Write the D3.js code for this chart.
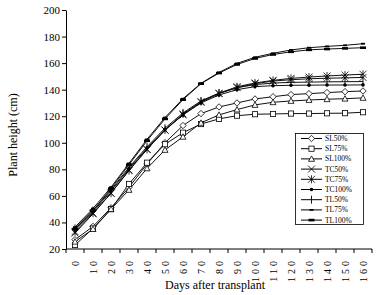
<!DOCTYPE html>
<html>
<head>
<meta charset="utf-8">
<script src="https://cdn.jsdelivr.net/npm/d3@7"></script>
<style>
  body { margin: 0; background: #fff; }
  svg { display: block; font-family: "Liberation Serif", "Times New Roman", serif; }
</style>
</head>
<body>
<script>
// Data.
const days = [0, 10, 20, 30, 40, 50, 60, 70, 80, 90, 100, 110, 120, 130, 140, 150, 160]
const seriesNames = ['SL50%', 'SL75%', 'SL100%', 'TC50%', 'TC75%', 'TC100%', 'TL50%', 'TL75%', 'TL100%']
const sl50 = [27, 37, 51, 66.5, 84, 100, 113, 122, 127, 130, 133, 134.7, 136.3, 137, 137.8, 138.5, 139]
const sl75 = [23, 35.5, 50, 69, 85, 98.9, 107.6, 114.1, 118, 120.4, 121.5, 121.7, 122, 122, 122.2, 122.3, 123]
const sl100 = [25.5, 35, 50, 64.5, 80.7, 94.6, 104.5, 115, 121, 125, 128.5, 130.5, 131.5, 132.2, 132.8, 133.2, 133.8]
const tc50 = [32, 46.5, 62, 79.5, 95, 109.5, 121, 130.5, 137, 141.5, 144.5, 146.5, 147.5, 148.2, 148.6, 148.9, 149.2]
const tc75 = [33, 47, 62, 79, 95, 109.6, 121.7, 131, 137.3, 142.2, 145, 147, 148.5, 149.5, 150.3, 151, 151.6]
const tc100 = [34.5, 48, 63.5, 80.5, 96, 110, 121, 130, 136, 140, 142.3, 143, 143.3, 143.4, 143.5, 143.5, 143.6]
const tl50 = [35.5, 49, 64.5, 81.5, 97, 111, 122.5, 131.5, 137.5, 141.5, 143.8, 145, 145.5, 145.7, 145.9, 146, 146.1]
const tl75 = [36.5, 50.5, 66.5, 84.5, 102.6, 119, 133.2, 144.8, 153, 159.8, 164.4, 167.4, 169.9, 171.6, 172.6, 173.4, 174.6]
const tl100 = [35, 49, 65.5, 83.5, 101.5, 118, 132.5, 144.5, 152.5, 159, 163.5, 166.5, 168.5, 170, 170.6, 171.1, 171.6]
const yTicks = [20, 40, 60, 80, 100, 120, 140, 160, 180, 200]

const seriesValues = [sl50, sl75, sl100, tc50, tc75, tc100, tl50, tl75, tl100]
const markers = ['diamond', 'square', 'triangle', 'cross', 'star', 'dot', 'plus', 'dash', 'bar']

const W = 377, H = 295

const svg = d3.select('body')
  .append('svg')
    .attr('width', W)
    .attr('height', H)

// Scales.
const x = d3.scaleBand().domain(days).range([66, 372])
const y = d3.scaleLinear().domain([20, 200]).range([249, 10])
const cx = d => x(d) + x.bandwidth() / 2

// Draw one marker shape centred on (0,0).
const drawMarker = (g, type) => {
  const s = '#000'
  if (type === 'diamond') {
    g.append('path').attr('d', 'M0,-3.2L3.2,0L0,3.2L-3.2,0Z')
      .attr('fill', '#fff').attr('stroke', s).attr('stroke-width', 0.8)
  } else if (type === 'square') {
    g.append('rect').attr('x', -2.6).attr('y', -2.6).attr('width', 5.2).attr('height', 5.2)
      .attr('fill', '#fff').attr('stroke', s).attr('stroke-width', 0.8)
  } else if (type === 'triangle') {
    g.append('path').attr('d', 'M0,-3L3,2.4L-3,2.4Z')
      .attr('fill', '#fff').attr('stroke', s).attr('stroke-width', 0.8)
  } else if (type === 'cross') {
    g.append('path').attr('d', 'M-3.5,-3.5L3.5,3.5M-3.5,3.5L3.5,-3.5')
      .attr('stroke', s).attr('stroke-width', 0.8)
  } else if (type === 'star') {
    g.append('path').attr('d', 'M-3.5,-3.5L3.5,3.5M-3.5,3.5L3.5,-3.5M0,-4L0,4')
      .attr('stroke', s).attr('stroke-width', 0.8)
  } else if (type === 'dot') {
    g.append('circle').attr('r', 1.8).attr('fill', s)
  } else if (type === 'plus') {
    g.append('path').attr('d', 'M0,-4L0,4')
      .attr('stroke', s).attr('stroke-width', 0.9)
  } else if (type === 'dash') {
    g.append('rect').attr('x', -2).attr('y', -0.9).attr('width', 4).attr('height', 1.8).attr('fill', s)
  } else if (type === 'bar') {
    g.append('rect').attr('x', -3).attr('y', -1.3).attr('width', 6).attr('height', 2.6).attr('fill', s)
  }
}

// Axes.
const yAxis = svg.append('g')
    .attr('transform', `translate(${x.range()[0]},0)`)
    .call(d3.axisLeft(y).tickValues(yTicks).tickSize(4).tickSizeOuter(0))
yAxis.select('.domain').attr('stroke', '#000')
yAxis.selectAll('line').attr('stroke', '#000')
yAxis.selectAll('text')
    .attr('font-size', 11)
    .attr('font-family', '"Liberation Serif", serif')
    .attr('fill', '#000')
    .attr('x', -6)

// X axis line with ticks on band boundaries.
const xAxis = svg.append('g').attr('class', 'axis axis--x')
xAxis.append('line')
    .attr('x1', x.range()[0]).attr('x2', x.range()[1])
    .attr('y1', y(20)).attr('y2', y(20))
    .attr('stroke', '#000')
xAxis.selectAll('.tick')
  .data(days.map(d => x(d)).concat([x.range()[1]]))
  .enter().append('line')
    .attr('x1', d => d).attr('x2', d => d)
    .attr('y1', y(20)).attr('y2', y(20) + 4)
    .attr('stroke', '#000')
xAxis.selectAll('.lab')
  .data(days)
  .enter().append('text')
    .attr('transform', d => `translate(${cx(d) + 3.6},${y(20) + 9}) rotate(-90)`)
    .attr('text-anchor', 'end')
    .attr('font-size', 10)
    .attr('letter-spacing', 3)
    .text(d => d)

// Axis titles.
svg.append('text')
    .attr('transform', 'translate(17,135) rotate(-90)')
    .attr('text-anchor', 'middle')
    .attr('font-size', 12)
    .text('Plant height (cm)')

svg.append('text')
    .attr('x', 215)
    .attr('y', 289)
    .attr('text-anchor', 'middle')
    .attr('font-size', 12)
    .text('Days after transplant')

// Lines.
const line = d3.line().x((v, i) => cx(days[i])).y(v => y(v))
seriesValues.forEach((vals, k) => {
  svg.append('path')
      .attr('d', line(vals))
      .attr('fill', 'none')
      .attr('stroke', '#111')
      .attr('stroke-width', 1)
})
seriesValues.forEach((vals, k) => {
  vals.forEach((v, i) => {
    const g = svg.append('g').attr('transform', `translate(${cx(days[i])},${y(v)})`)
    drawMarker(g, markers[k])
  })
})

// Legend.
const legend = svg.append('g')
legend.append('rect')
    .attr('x', 295.5).attr('y', 133.5).attr('width', 68).attr('height', 91)
    .attr('fill', '#fff').attr('stroke', '#000').attr('stroke-width', 0.8)
seriesNames.forEach((name, k) => {
  const ly = 138.5 + k * 10.2
  legend.append('line')
      .attr('x1', 301).attr('x2', 322)
      .attr('y1', ly).attr('y2', ly)
      .attr('stroke', '#000').attr('stroke-width', 1)
  drawMarker(legend.append('g').attr('transform', `translate(311.5,${ly})`), markers[k])
  legend.append('text')
      .attr('x', 325).attr('y', ly + 2.5)
      .attr('font-size', 7.5)
      .text(name)
})
</script>
</body>
</html>
